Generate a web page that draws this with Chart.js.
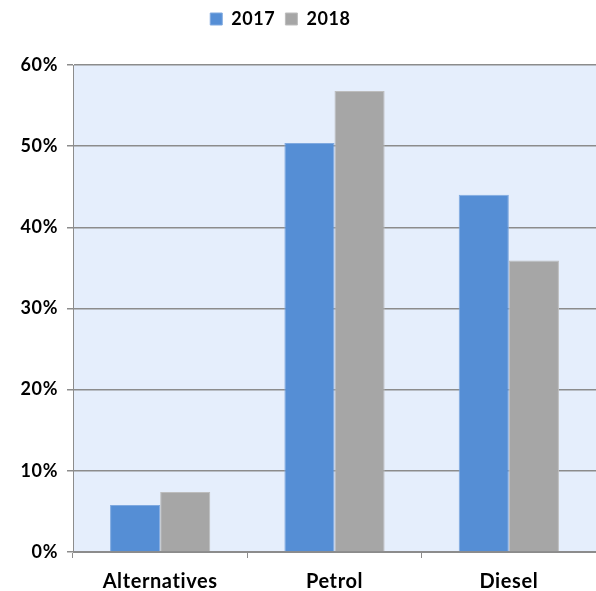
<!DOCTYPE html>
<html>
<head>
<meta charset="utf-8">
<script src="https://cdn.jsdelivr.net/npm/chart.js@4.4.1/dist/chart.umd.min.js"></script>
<style>
  html, body { margin: 0; padding: 0; background: #ffffff; }
  #wrap { width: 596px; height: 591px; }
</style>
</head>
<body>
<div id="wrap"><canvas id="mainChart"></canvas></div>
<script>
const categories = ['Alternatives', 'Petrol', 'Diesel'];
const seriesNames = ['2017', '2018'];
const values2017 = [5.8, 50.4, 44.0];
const values2018 = [7.4, 56.8, 35.9];
const yTicks = [0, 10, 20, 30, 40, 50, 60];

// fond bleu clair de la zone de tracé
const plotBg = {
    id: 'plotBg',
    beforeDraw(chart) {
        const a = chart.chartArea;
        const ctx = chart.ctx;
        ctx.save();
        ctx.fillStyle = '#e5eefc';
        ctx.fillRect(a.left, a.top, a.right - a.left, a.bottom - a.top);
        ctx.restore();
    }
};

// la légende est un peu décalée vers la gauche dans l'original
const legendShift = {
    id: 'legendShift',
    afterLayout(chart) {
        if (chart.legend) {
            chart.legend.left -= 20;
            chart.legend.right -= 20;
        }
    }
};

// espacement des lettres, plus proche de la police d'origine
const spacing = {
    id: 'spacing',
    beforeDatasetsDraw(chart) { chart.ctx.letterSpacing = '0px'; },
    beforeDraw(chart) { chart.ctx.letterSpacing = '0.6px'; }
};

const fontFamily = 'Lato, "Open Sans", sans-serif';

new Chart(document.getElementById('mainChart'), {
    type: 'bar',
    data: {
        labels: categories,
        datasets: [
            {
                label: seriesNames[0],
                data: values2017,
                backgroundColor: '#558ed5',
                borderColor: '#7fa9e0',
                borderWidth: 1,
                categoryPercentage: 0.575,
                barPercentage: 1.0
            },
            {
                label: seriesNames[1],
                data: values2018,
                backgroundColor: '#a6a6a6',
                borderColor: '#bdbdbd',
                borderWidth: 1,
                categoryPercentage: 0.575,
                barPercentage: 1.0
            }
        ]
    },
    options: {
        responsive: true,
        maintainAspectRatio: false,
        animation: false,
        layout: { padding: { top: 0, right: 0, left: 0, bottom: 0 } },
        plugins: {
            legend: {
                position: 'top',
                labels: {
                    boxWidth: 12,
                    boxHeight: 12,
                    padding: 10,
                    color: '#000000',
                    font: { family: fontFamily, size: 18, weight: 'bold' }
                }
            },
            // espace vide entre la légende et le graphique
            subtitle: {
                display: true,
                text: '',
                weight: 500,
                font: { size: 10 },
                padding: { top: 6, bottom: 9 }
            },
            tooltip: { enabled: false }
        },
        scales: {
            x: {
                grid: {
                    offset: true,
                    drawOnChartArea: false,
                    drawTicks: true,
                    tickLength: 6,
                    color: '#8c8c8c'
                },
                border: { color: '#8c8c8c', width: 1 },
                ticks: {
                    color: '#000000',
                    padding: 12,
                    font: { family: fontFamily, size: 20, weight: 'bold' }
                },
                afterFit(scale) { scale.height = 39; }
            },
            y: {
                min: 0,
                max: 60,
                afterBuildTicks(scale) {
                    scale.ticks = yTicks.map(v => ({ value: v }));
                },
                grid: {
                    color: '#8c8c8c',
                    lineWidth: 1.5,
                    tickLength: 6
                },
                border: { color: '#8c8c8c', width: 1 },
                ticks: {
                    color: '#000000',
                    padding: 9,
                    font: { family: fontFamily, size: 18, weight: 'bold' },
                    callback: v => v + '%'
                },
                afterFit(scale) { scale.width = 73; }
            }
        }
    },
    plugins: [plotBg, legendShift, spacing]
});
</script>
</body>
</html>
